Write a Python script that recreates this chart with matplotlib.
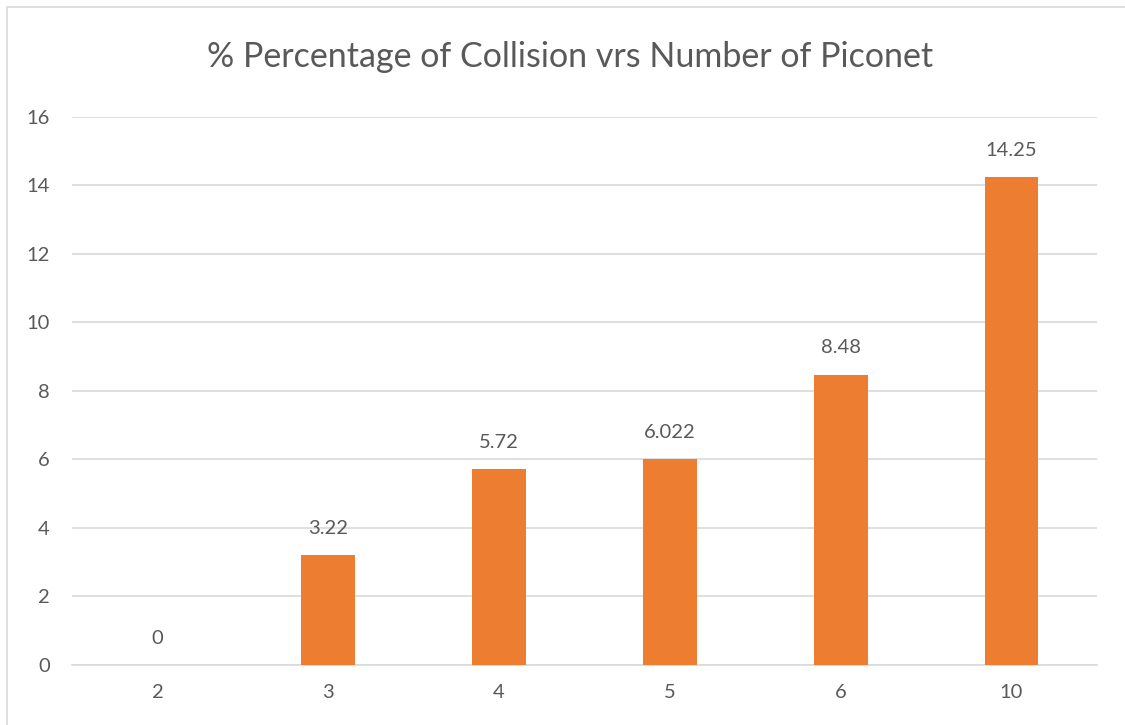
import matplotlib
matplotlib.use('Agg')
import matplotlib.pyplot as plt
from matplotlib.patches import Rectangle

plt.rcParams['font.family'] = ['Lato', 'DejaVu Sans']

categories = ['2', '3', '4', '5', '6', '10']
values = [0, 3.22, 5.72, 6.022, 8.48, 14.25]
value_labels = ['0', '3.22', '5.72', '6.022', '8.48', '14.25']

text_color = '#595959'
bar_color = '#ED7D31'
grid_color = '#D9D9D9'

fig = plt.figure(figsize=(11.25, 7.25), dpi=100)
fig.patches.append(Rectangle((7 / 1125, -0.01), 1.2, 1 - 7 / 725 + 0.01,
                             transform=fig.transFigure, fill=False,
                             edgecolor=grid_color, linewidth=1.2))
ax = fig.add_axes([0.064, 0.0828, 0.911, 0.7559])

x = list(range(len(categories)))
ax.bar(x, values, width=0.315, color=bar_color, zorder=3)
for xi, v, lab in zip(x, values, value_labels):
    ax.annotate(lab, (xi, v), xytext=(0, 13), textcoords='offset points',
                ha='center', va='bottom', fontsize=14.5, color=text_color)

ax.set_xlim(-0.5, len(categories) - 0.5)
ax.set_ylim(0, 16)
ax.set_yticks(range(0, 17, 2))
ax.set_xticks(x)
ax.set_xticklabels(categories)
ax.yaxis.grid(True, color=grid_color, linewidth=1.2, zorder=0)
for s in ['top', 'right', 'left']:
    ax.spines[s].set_visible(False)
ax.spines['bottom'].set_color(grid_color)
ax.spines['bottom'].set_linewidth(1.2)
ax.tick_params(axis='both', length=0, labelsize=14.5, labelcolor=text_color)
ax.tick_params(axis='y', pad=16)
ax.tick_params(axis='x', pad=14)

fig.text(0.507, 1 - 57 / 725, '% Percentage of Collision vrs Number of Piconet',
         ha='center', va='center', fontsize=24.5, color=text_color)

fig.savefig('out.png', dpi=100)
